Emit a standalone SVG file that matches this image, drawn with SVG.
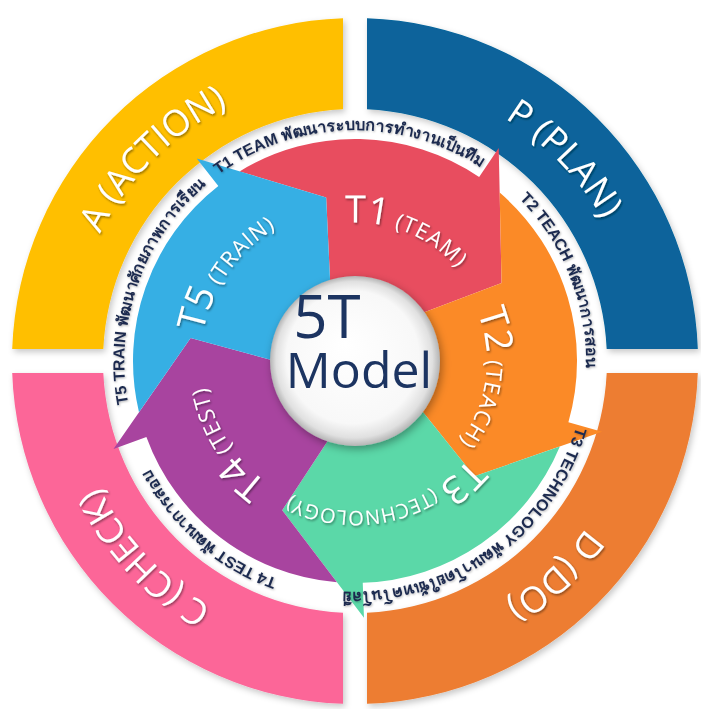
<svg xmlns="http://www.w3.org/2000/svg" width="701" height="709" viewBox="0 0 701 709">
<defs>
<style>
.ql{font-family:"Open Sans","Noto Sans",sans-serif;font-size:36px;fill:#fff;filter:url(#ts)}
.rt{font-family:"Liberation Sans","DejaVu Sans","Noto Sans",sans-serif;font-size:16px;font-weight:bold;fill:#1d2b4f;filter:url(#ds)}
.il{font-family:"Open Sans","Noto Sans",sans-serif;fill:#fff;filter:url(#ts)}
.big{font-size:38px}
.sm{font-size:22px;letter-spacing:1px}
.xs{font-size:20px;letter-spacing:0.5px}
.ct{font-family:"Open Sans","Noto Sans",sans-serif;fill:#1c3461}
</style>
<filter id="qs" x="-10%" y="-10%" width="120%" height="120%"><feDropShadow dx="2" dy="3" stdDeviation="3" flood-color="#000" flood-opacity="0.22"/></filter>
<filter id="ts" x="-10%" y="-10%" width="120%" height="120%"><feDropShadow dx="1" dy="1.5" stdDeviation="1" flood-color="#000" flood-opacity="0.45"/></filter>
<filter id="ds" x="-10%" y="-10%" width="120%" height="120%"><feDropShadow dx="0.8" dy="1" stdDeviation="0.8" flood-color="#000" flood-opacity="0.3"/></filter>
<filter id="cs" x="-20%" y="-20%" width="140%" height="140%"><feDropShadow dx="2" dy="3" stdDeviation="4" flood-color="#000" flood-opacity="0.35"/></filter>
<radialGradient id="cg" cx="50%" cy="50%" r="50%" fx="44%" fy="40%">
<stop offset="0" stop-color="#ffffff"/>
<stop offset="0.78" stop-color="#f8f8f8"/>
<stop offset="0.92" stop-color="#e0e0e0"/>
<stop offset="1" stop-color="#b4b4b4"/>
</radialGradient>
<path id="seg" d="M 92.64,-201.75 A 222 222 0 0 1 222 0 L 257 0 L 146.57 77.93 L 75.18 27.36 A 80 80 0 0 0 49.25 -63.04 L 119.41 -115.31 Z"/>
<path id="qA" d="M 79.7 434.8 A 285 285 0 0 1 428.8 85.7"/>
<path id="qP" d="M 286.1 84.5 A 285 285 0 0 1 629.0 439.6"/>
<path id="qD" d="M 632.7 296.9 A 285 285 0 0 1 271.7 633.5"/>
<path id="qC" d="M 419.1 638.7 A 285 285 0 0 1 82.5 277.7"/>
<path id="r1" d="M 124.4 346.9 A 231 231 0 0 1 584.5 334.9"/>
<path id="r2" d="M 289.4 139.5 A 231 231 0 0 1 458.1 567.7"/>
<path id="r3" d="M 554.4 244.5 A 231 231 0 0 1 178.8 510.4"/>
<path id="r4" d="M 515.8 526.9 A 231 231 0 0 1 167.9 225.5"/>
<path id="r5" d="M 258.8 571.0 A 231 231 0 0 1 413.2 137.5"/>
<path id="i1" d="M 232.0 298.3 A 138 138 0 0 1 487.0 401.4"/>
<path id="i2" d="M 384.7 232.4 A 132 132 0 0 1 348.1 492.8"/>
<path id="i3" d="M 503.9 342.7 A 150 150 0 0 1 211.6 404.9"/>
<path id="i4" d="M 423.1 494.7 A 150 150 0 0 1 264.7 241.2"/>
<path id="i5" d="M 255.4 479.7 A 155 155 0 0 1 432.5 226.8"/>
</defs>
<rect width="701" height="709" fill="#ffffff"/>

<g id="quadrant-action" filter="url(#qs)">
<path d="M 343 18.2 A 343 343 0 0 0 12.2 349 L 103.3 349 A 252 252 0 0 1 343 109.3 Z" fill="#ffbf00"/>
<text class="ql"><textPath href="#qA" startOffset="50%" text-anchor="middle">A (ACTION)</textPath></text>
</g>
<g id="quadrant-plan" filter="url(#qs)">
<path d="M 367 18.2 A 343 343 0 0 1 697.8 349 L 606.7 349 A 252 252 0 0 0 367 109.3 Z" fill="#07649b"/>
<text class="ql"><textPath href="#qP" startOffset="50%" text-anchor="middle">P (PLAN)</textPath></text>
</g>
<g id="quadrant-do" filter="url(#qs)">
<path d="M 697.8 373 A 343 343 0 0 1 367 703.8 L 367 612.7 A 252 252 0 0 0 606.7 373 Z" fill="#ed7d31"/>
<text class="ql"><textPath href="#qD" startOffset="50%" text-anchor="middle">D (DO)</textPath></text>
</g>
<g id="quadrant-check" filter="url(#qs)">
<path d="M 343 703.8 A 343 343 0 0 1 12.2 373 L 103.3 373 A 252 252 0 0 0 343 612.7 Z" fill="#fc6698"/>
<text class="ql"><textPath href="#qC" startOffset="50%" text-anchor="middle">C (CHECK)</textPath></text>
</g>

<g id="t1-team"><use href="#seg" transform="translate(355 361) rotate(-56)" fill="#e84d5f"/></g>
<g id="t2-teach"><use href="#seg" transform="translate(355 361) rotate(16)" fill="#fb8a27"/></g>
<g id="t3-technology"><use href="#seg" transform="translate(355 361) rotate(88)" fill="#5bd8a8"/></g>
<g id="t4-test"><use href="#seg" transform="translate(355 361) rotate(160)" fill="#a8449f"/></g>
<g id="t5-train"><use href="#seg" transform="translate(355 361) rotate(232)" fill="#36afe4"/></g>

<g id="segment-labels">
<text id="t1-label" class="il"><textPath href="#i1" startOffset="50%" text-anchor="middle"><tspan class="big">T1</tspan><tspan class="sm">  (TEAM)</tspan></textPath></text>
<text id="t2-label" class="il"><textPath href="#i2" startOffset="50%" text-anchor="middle"><tspan class="big">T2</tspan><tspan class="sm">  (TEACH)</tspan></textPath></text>
<text id="t3-label" class="il"><textPath href="#i3" startOffset="50%" text-anchor="middle"><tspan class="big">T3</tspan><tspan class="xs">  (TECHNOLOGY)</tspan></textPath></text>
<text id="t4-label" class="il"><textPath href="#i4" startOffset="50%" text-anchor="middle"><tspan class="big">T4</tspan><tspan class="sm"> (TEST)</tspan></textPath></text>
<text id="t5-label" class="il"><textPath href="#i5" startOffset="50%" text-anchor="middle"><tspan class="big">T5</tspan><tspan class="sm">  (TRAIN)</tspan></textPath></text>
</g>

<g id="ring-labels">
<text class="rt"><textPath href="#r1" startOffset="50%" text-anchor="middle">T1 TEAM พัฒนาระบบการทำงานเป็นทีม</textPath></text>
<text class="rt"><textPath href="#r2" startOffset="50%" text-anchor="middle">T2 TEACH พัฒนาการสอน</textPath></text>
<text class="rt"><textPath href="#r3" startOffset="50%" text-anchor="middle">T3 TECHNOLOGY พัฒนาโดยใช้เทคโนโลยี</textPath></text>
<text class="rt"><textPath href="#r4" startOffset="50%" text-anchor="middle">T4 TEST พัฒนาการสอบ</textPath></text>
<text class="rt"><textPath href="#r5" startOffset="50%" text-anchor="middle">T5 TRAIN พัฒนาศักยภาพการเรียน</textPath></text>
</g>

<g id="center-5t-model">
<circle cx="355" cy="361" r="85" fill="url(#cg)" filter="url(#cs)"/>
<text class="ct" x="327" y="338" font-size="60" text-anchor="middle">5T</text>
<text class="ct" x="359" y="388" font-size="50" text-anchor="middle">Model</text>
</g>
</svg>
